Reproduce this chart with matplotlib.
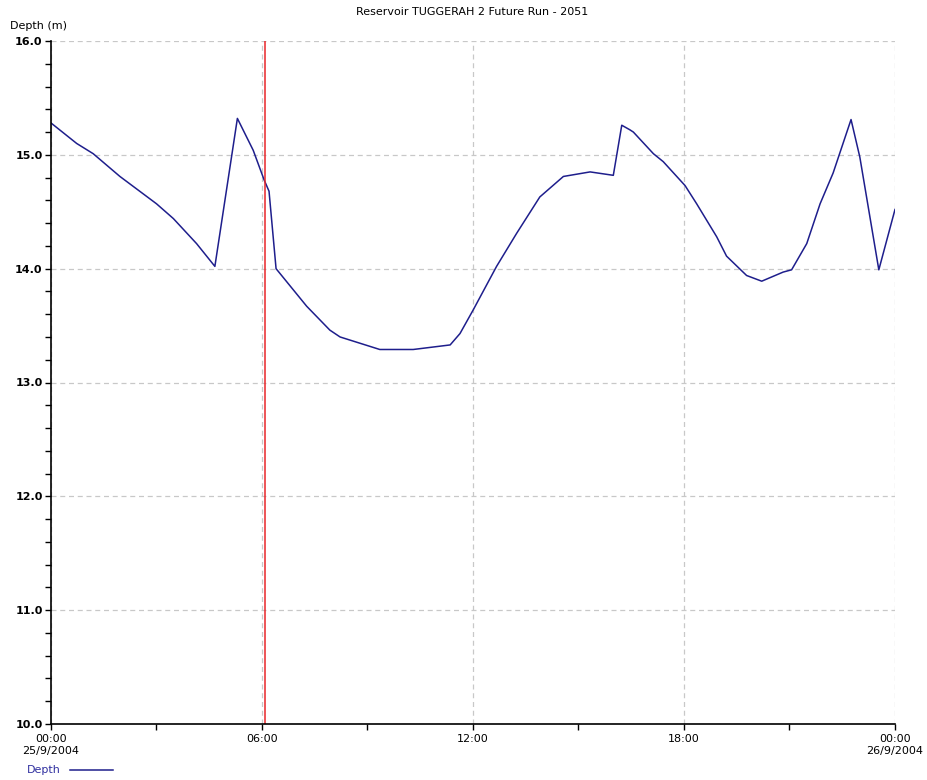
import numpy as np
import matplotlib.pyplot as plt
from matplotlib.ticker import MultipleLocator

# hours since 00:00 25/9/2004, depth in m
hours = [0.0, 0.73, 1.2, 1.96, 3.0, 3.48, 4.14, 4.66, 5.30, 5.75, 6.06, 6.20,
         6.40, 7.27, 7.93, 8.22, 9.35, 10.30, 11.35, 11.63, 12.01, 12.67, 13.24,
         13.9, 14.57, 15.33, 15.99, 16.23, 16.46, 16.56, 16.8, 17.13, 17.41,
         18.03, 18.36, 18.93, 19.21, 19.78, 20.21, 20.82, 21.06, 21.49, 21.87,
         22.24, 22.75, 23.0, 23.54, 24.0]
depth = [15.28, 15.10, 15.01, 14.81, 14.57, 14.44, 14.22, 14.02, 15.32, 15.04,
         14.78, 14.68, 14.00, 13.67, 13.46, 13.40, 13.29, 13.29, 13.33, 13.43,
         13.64, 14.02, 14.31, 14.63, 14.81, 14.85, 14.82, 15.26, 15.22, 15.20,
         15.12, 15.01, 14.94, 14.73, 14.57, 14.28, 14.11, 13.94, 13.89, 13.97,
         13.99, 14.22, 14.57, 14.84, 15.31, 14.98, 13.99, 14.52]
marker_hour = 6.09
xtick_pos = [0, 6, 12, 18, 24]
xtick_labels = ["00:00\n25/9/2004", "06:00", "12:00", "18:00", "00:00\n26/9/2004"]

fig = plt.figure(figsize=(9.28, 7.8), dpi=100)
ax = fig.add_axes([51 / 928, 1 - 724 / 780, 844 / 928, 683 / 780])

ax.plot(hours, depth, color='#1e1e8c', lw=1.1)
ax.axvline(marker_hour, color='#e8262a', lw=1.1)

ax.set_xlim(0, 24)
ax.set_ylim(10, 16)
ax.set_xticks(xtick_pos)
ax.set_xticklabels(xtick_labels)
ax.xaxis.set_minor_locator(MultipleLocator(3))
ax.yaxis.set_major_locator(MultipleLocator(1))
ax.yaxis.set_minor_locator(MultipleLocator(0.2))
ax.yaxis.set_major_formatter(plt.FormatStrFormatter('%.1f'))

ax.grid(True, which='major', color='#c8c8c8', ls=(0, (4, 3)), lw=0.9)
for s in ['top', 'right']:
    ax.spines[s].set_visible(False)
for s in ['left', 'bottom']:
    ax.spines[s].set_linewidth(1.2)

ax.tick_params(axis='both', which='both', length=4, width=1, labelsize=8)
ax.tick_params(axis='y', pad=2)
for lab in ax.get_yticklabels():
    lab.set_fontweight('bold')

fig.text(472 / 928, 1 - 12 / 780, "Reservoir TUGGERAH 2 Future Run - 2051",
         ha='center', va='center', fontsize=8)
fig.text(10 / 928, 1 - 26 / 780, "Depth (m)", ha='left', va='center', fontsize=8)

# legend entry under the axis
fig.text(27 / 928, 1 - 770 / 780, "Depth", ha='left', va='center', fontsize=8,
         color='#3030a0')
fig.add_artist(plt.Line2D([70 / 928, 113 / 928], [1 - 770 / 780] * 2,
                          color='#1e1e8c', lw=1.1))

fig.savefig('out.png', dpi=100)
